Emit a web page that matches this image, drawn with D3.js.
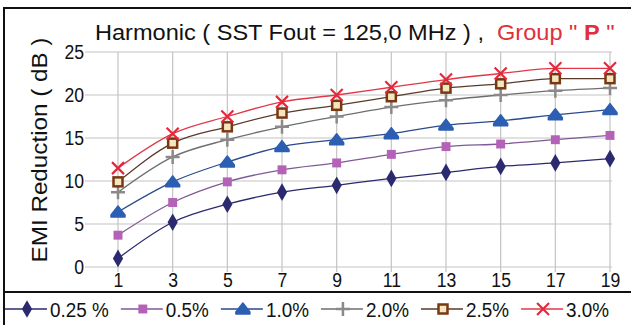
<!DOCTYPE html>
<html>
<head>
<meta charset="utf-8">
<script src="https://cdn.jsdelivr.net/npm/d3@7"></script>
<style>
  html, body { margin: 0; padding: 0; background: #fff; }
  svg { display: block; }
  text { font-family: "Liberation Sans", Arial, sans-serif; }
</style>
</head>
<body>
<script>
// data
var harmonics = [1, 3, 5, 7, 9, 11, 13, 15, 17, 19];
var yTicks = [0, 5, 10, 15, 20, 25];
var seriesNames = ["0.25 %", "0.5%", "1.0%", "2.0%", "2.5%", "3.0%"];
var s025 = [1.0, 5.2, 7.3, 8.7, 9.5, 10.3, 11.0, 11.7, 12.1, 12.6];
var s05  = [3.7, 7.5, 9.9, 11.3, 12.1, 13.1, 14.0, 14.3, 14.8, 15.3];
var s10  = [6.4, 9.9, 12.2, 14.0, 14.8, 15.5, 16.5, 17.0, 17.7, 18.3];
var s20  = [8.7, 12.8, 14.8, 16.3, 17.5, 18.6, 19.4, 20.0, 20.5, 20.8];
var s25  = [9.9, 14.4, 16.3, 17.9, 18.8, 19.8, 20.8, 21.3, 21.9, 21.9];
var s30  = [11.5, 15.5, 17.5, 19.2, 20.0, 20.9, 21.8, 22.5, 23.1, 23.1];

var W = 631, H = 325;
var squeeze = 0.84; // the reference type is narrower than Arial
var svg = d3.select("body").append("svg").attr("width", W).attr("height", H);

// frame
svg.append("rect").attr("x", 0).attr("y", 0).attr("width", W).attr("height", H).attr("fill", "#fff");
svg.append("rect").attr("x", 4).attr("y", 8).attr("width", 660).attr("height", 360)
   .attr("fill", "none").attr("stroke", "#111").attr("stroke-width", 2);
svg.append("line").attr("x1", 4).attr("x2", W).attr("y1", 292).attr("y2", 292)
   .attr("stroke", "#111").attr("stroke-width", 2);

var x = d3.scaleLinear().domain([1, 19]).range([118, 610]);
var y = d3.scaleLinear().domain([0, 25]).range([267, 52]);

// grid
var grid = svg.append("g");
grid.selectAll("line.h").data(yTicks).join("line").attr("class", "h")
    .attr("x1", 85).attr("x2", 612).attr("y1", function(d){ return y(d); }).attr("y2", function(d){ return y(d); })
    .attr("stroke", "#c4c4c4").attr("stroke-width", 1.2);
grid.selectAll("line.v").data(harmonics).join("line").attr("class", "v")
    .attr("x1", function(d){ return x(d); }).attr("x2", function(d){ return x(d); })
    .attr("y1", y(25)).attr("y2", y(0) + 5)
    .attr("stroke", "#c4c4c4").attr("stroke-width", 1.2);

// axes labels
var yAxis = svg.append("g").attr("transform", "translate(84,0)")
    .call(d3.axisLeft(y).tickValues(yTicks).tickSize(0).tickPadding(0));
yAxis.select(".domain").remove();
yAxis.selectAll("text").attr("font-size", 21).attr("fill", "#111").attr("font-family", null)
    .attr("transform", "scale(" + squeeze + ",1)");

var xAxis = svg.append("g").attr("transform", "translate(0," + y(0) + ")")
    .call(d3.axisBottom(x).tickValues(harmonics).tickSize(0).tickPadding(5));
xAxis.select(".domain").remove();
xAxis.selectAll("text").attr("font-size", 21).attr("fill", "#111").attr("font-family", null)
    .attr("transform", "scale(" + squeeze + ",1)");

// title
var title = svg.append("text").attr("x", 95).attr("y", 40).attr("font-size", 22)
    .style("white-space", "pre").attr("fill", "#111");
title.append("tspan").text("Harmonic ( SST Fout = 125,0 MHz ) ,  ");
title.append("tspan").attr("fill", "#e0303c").text("Group \" ");
title.append("tspan").attr("fill", "#e0303c").attr("font-weight", "bold").text("P");
title.append("tspan").attr("fill", "#e0303c").text(" \"");
var tw = title.node().getComputedTextLength();
title.attr("transform", "translate(95,0) scale(" + (520 / tw) + ",1) translate(-95,0)");

// y axis title
var yt = svg.append("text").attr("font-size", 22).attr("fill", "#111")
    .attr("text-anchor", "middle").style("white-space", "pre")
    .attr("transform", "translate(47,150) rotate(-90)")
    .text("EMI Reduction ( dB )");
var yw = yt.node().getComputedTextLength();
yt.attr("transform", "translate(47,150) rotate(-90) scale(" + (225 / yw) + ",1)");

// series
var series = [
  { name: seriesNames[0], values: s025, color: "#2b2a6e", line: "#2b2a6e", shape: "diamond" },
  { name: seriesNames[1], values: s05,  color: "#b462b8", line: "#7e5a96", shape: "square" },
  { name: seriesNames[2], values: s10,  color: "#2c5fb2", line: "#2a4a8a", shape: "triangle" },
  { name: seriesNames[3], values: s20,  color: "#8a8a8a", line: "#6e6e6e", shape: "plus" },
  { name: seriesNames[4], values: s25,  color: "#7a3812", line: "#5a3a2a", shape: "hollow" },
  { name: seriesNames[5], values: s30,  color: "#e6283c", line: "#e03848", shape: "times" }
];

function drawMarker(g, shape, color) {
  if (shape === "diamond") {
    g.append("path").attr("d", d3.symbol(d3.symbolDiamond, 90)()).attr("fill", color);
  } else if (shape === "square") {
    g.append("path").attr("d", d3.symbol(d3.symbolSquare, 80)()).attr("fill", color);
  } else if (shape === "triangle") {
    g.append("path").attr("d", "M0,-6 L7,3 L7,5 L-7,5 L-7,3 Z").attr("fill", color)
      .attr("stroke", color).attr("stroke-linejoin", "round").attr("stroke-width", 1.5);
  } else if (shape === "plus") {
    g.append("path").attr("d", "M-7,0H7M0,-7V7").attr("stroke", color).attr("stroke-width", 2.5);
  } else if (shape === "hollow") {
    g.append("rect").attr("x", -4.5).attr("y", -4.5).attr("width", 9).attr("height", 9)
      .attr("fill", "#f3e7c2").attr("stroke", color).attr("stroke-width", 2.5);
  } else if (shape === "times") {
    g.append("path").attr("d", "M-6,-6L6,6M-6,6L6,-6").attr("stroke", color).attr("stroke-width", 2.2);
  }
}

var line = d3.line().x(function(d, i){ return x(harmonics[i]); }).y(function(d){ return y(d); })
    .curve(d3.curveMonotoneX);

series.forEach(function(s) {
  svg.append("path").datum(s.values).attr("d", line)
     .attr("fill", "none").attr("stroke", s.line).attr("stroke-width", 1.3);
});
series.forEach(function(s) {
  s.values.forEach(function(v, i) {
    var g = svg.append("g").attr("transform", "translate(" + x(harmonics[i]) + "," + y(v) + ")");
    drawMarker(g, s.shape, s.color);
  });
});

// legend
var lx = 5;
series.forEach(function(s) {
  var g = svg.append("g");
  g.append("line").attr("x1", lx).attr("x2", lx + 42).attr("y1", 309).attr("y2", 309)
   .attr("stroke", s.line).attr("stroke-width", 1.5);
  var m = g.append("g").attr("transform", "translate(" + (lx + 22) + ",309)");
  drawMarker(m, s.shape, s.color);
  var tx = lx + 45;
  var t = g.append("text").attr("x", 0).attr("y", 317).attr("font-size", 21)
   .attr("fill", "#111").style("white-space", "pre").text(s.name)
   .attr("transform", "translate(" + tx + ",0) scale(0.9,1)");
  lx = tx + t.node().getComputedTextLength() * 0.9 + 12;
});
</script>
</body>
</html>
